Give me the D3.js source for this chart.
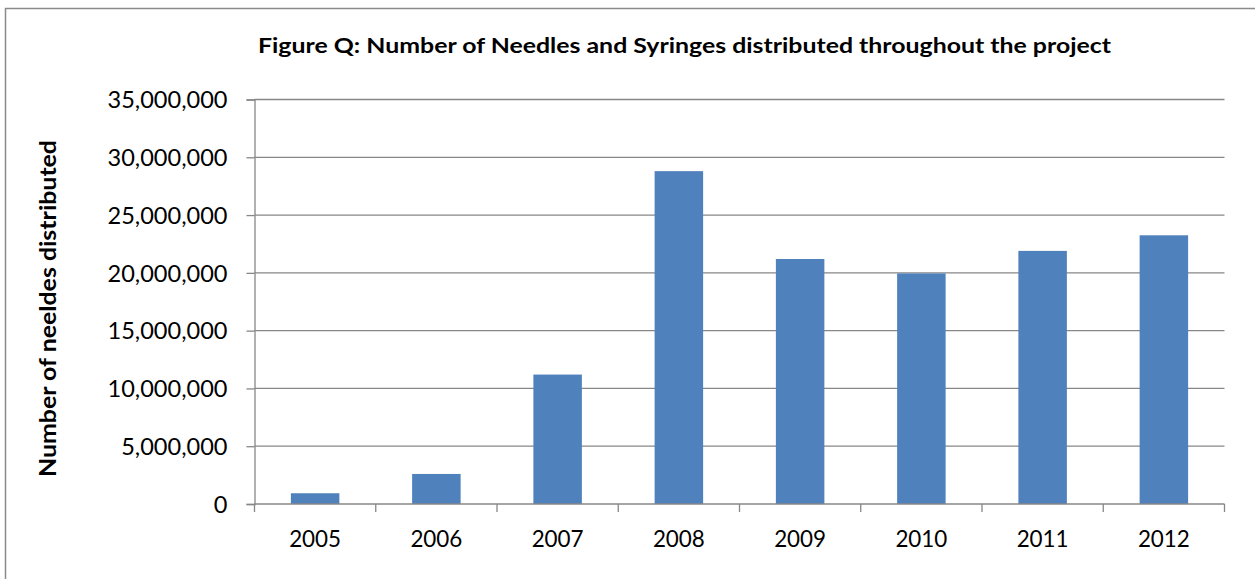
<!DOCTYPE html>
<html>
<head>
<meta charset="utf-8">
<script src="https://cdn.jsdelivr.net/npm/d3@7"></script>
<style>
  html, body { margin: 0; padding: 0; background: #fff; }
  svg { display: block; }
  text { font-family: Lato, "Open Sans", "DejaVu Sans", sans-serif; fill: #000; }
</style>
</head>
<body>
<svg id="chart" width="1255" height="579"></svg>
<script>
// Needles and syringes distributed per year
const years = ["2005", "2006", "2007", "2008", "2009", "2010", "2011", "2012"];
const needles = [930000, 2600000, 11200000, 28800000, 21200000, 19950000, 21900000, 23250000];
const yTicks = [0, 5000000, 10000000, 15000000, 20000000, 25000000, 30000000, 35000000];
const titleText = "Figure Q: Number of Needles and Syringes distributed throughout the project";
const yAxisTitle = "Number of neeldes distributed";

const svg = d3.select("#chart");
const plot = { left: 254.5, right: 1224.5, top: 99.5, bottom: 504 };
const gridColor = "#878787";
const barColor = "#4F81BD";

// Outer chart frame
svg.append("rect")
  .attr("x", 5.5).attr("y", 8.5)
  .attr("width", 1270).attr("height", 600)
  .attr("fill", "none").attr("stroke", "#8a8a8a").attr("stroke-width", 1.5);

const x = d3.scaleBand()
  .domain(years)
  .range([plot.left, plot.right])
  .paddingInner(0.6)
  .paddingOuter(0.3);

const y = d3.scaleLinear()
  .domain([0, 35000000])
  .range([plot.bottom, plot.top]);

// Natural text width at a given size and weight
function measure(str, size, weight) {
  const t = svg.append("text").attr("font-size", size).attr("font-weight", weight).text(str);
  const w = t.node().getComputedTextLength();
  t.remove();
  return w;
}
// Horizontal squeeze so that a reference string spans a target width
function squeeze(ref, size, weight, width) {
  return width / measure(ref, size, weight);
}
function applyFit(sel, size, weight, ratio) {
  sel.attr("font-size", size).attr("font-weight", weight)
    .attr("lengthAdjust", "spacingAndGlyphs")
    .attr("textLength", function () { return measure(this.textContent, size, weight) * ratio; });
}

// Horizontal gridlines
svg.append("g")
  .selectAll("line")
  .data(yTicks.filter(d => d > 0))
  .join("line")
  .attr("x1", plot.left).attr("x2", plot.right)
  .attr("y1", d => y(d)).attr("y2", d => y(d))
  .attr("stroke", gridColor).attr("stroke-width", 1.3);

// Bars
svg.append("g")
  .selectAll("rect")
  .data(years.map((yr, i) => ({ yr, v: needles[i] })))
  .join("rect")
  .attr("x", d => x(d.yr))
  .attr("width", x.bandwidth())
  .attr("y", d => y(d.v))
  .attr("height", d => y(0) - y(d.v))
  .attr("fill", barColor);

// Y axis
const labelSize = 23;
const tickRatio = squeeze("35,000,000", labelSize, 400, 120);
const yAxis = d3.axisLeft(y)
  .tickValues(yTicks)
  .tickSize(8)
  .tickPadding(19)
  .tickFormat(d3.format(","));
const gy = svg.append("g").attr("transform", `translate(${plot.left},0)`).call(yAxis);
gy.attr("font-family", null).attr("font-size", null);
gy.select(".domain").attr("stroke", gridColor).attr("stroke-width", 1.3);
gy.selectAll(".tick line").attr("stroke", gridColor).attr("stroke-width", 1.3);
gy.selectAll(".tick text").attr("fill", "#000").attr("dy", "0.36em")
  .call(applyFit, labelSize, 400, tickRatio);

// X axis with ticks at category boundaries
const step = x.step();
const bounds = years.map(yr => x(yr) - step * x.paddingInner() / 2).concat([plot.right]);
svg.append("line")
  .attr("x1", plot.left).attr("x2", plot.right)
  .attr("y1", plot.bottom).attr("y2", plot.bottom)
  .attr("stroke", gridColor).attr("stroke-width", 1.5);
svg.append("g")
  .selectAll("line")
  .data(bounds)
  .join("line")
  .attr("x1", d => d).attr("x2", d => d)
  .attr("y1", plot.bottom).attr("y2", plot.bottom + 8)
  .attr("stroke", gridColor).attr("stroke-width", 1.3);

const yearRatio = squeeze("2005", labelSize, 400, 52);
svg.append("g")
  .selectAll("text")
  .data(years)
  .join("text")
  .attr("x", d => x(d) + x.bandwidth() / 2)
  .attr("y", 547)
  .attr("text-anchor", "middle")
  .text(d => d)
  .call(applyFit, labelSize, 400, yearRatio);

// Title
const titleSize = 21.5;
svg.append("text")
  .attr("x", 684.5).attr("y", 53)
  .attr("text-anchor", "middle")
  .text(titleText)
  .call(applyFit, titleSize, 700, squeeze(titleText, titleSize, 700, 853));

// Y axis title
const axisTitleSize = 22;
svg.append("text")
  .attr("transform", "translate(56,308.5) rotate(-90)")
  .attr("text-anchor", "middle")
  .text(yAxisTitle)
  .call(applyFit, axisTitleSize, 700, squeeze(yAxisTitle, axisTitleSize, 700, 337));
</script>
</body>
</html>
